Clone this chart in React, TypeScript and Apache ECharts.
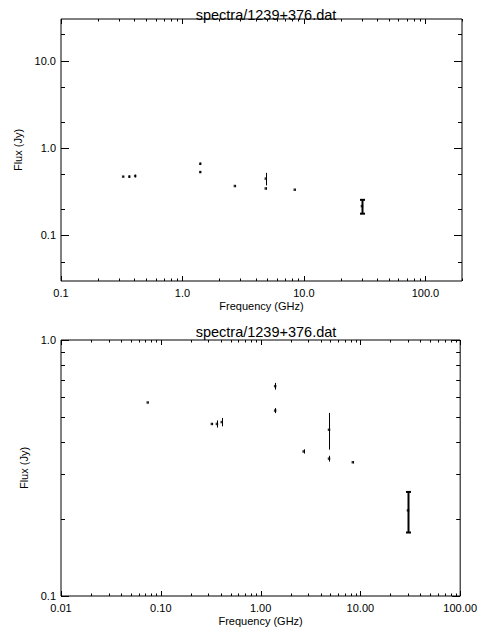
import React, { useEffect, useRef } from 'react';
import * as echarts from 'echarts';

// ---- data ----
const freqGHz = [0.074, 0.325, 0.365, 0.408, 1.4, 1.4, 2.7, 4.85, 4.85, 8.4, 30];
const fluxJy = [0.57, 0.47, 0.47, 0.478, 0.66, 0.53, 0.367, 0.446, 0.344, 0.333, 0.216];
const fluxErr = [0, 0.004, 0.015, 0.018, 0.02, 0.012, 0.007, 0.073, 0.009, 0.003, 0.039];

const titleText = 'spectra/1239+376.dat';
const xAxisName = 'Frequency (GHz)';
const yAxisName = 'Flux (Jy)';

const topXRange = [0.1, 200];
const topYRange = [0.03, 30];
const botXRange = [0.01, 100];
const botYRange = [0.1, 1];

const topXMinor = [2, 3, 4, 5, 6, 7, 8, 9];
const topYMinor = [2, 5];
const botXMinor = [2, 3, 4, 5, 6, 7, 8, 9];
const botYMinor = [2, 3, 4, 5, 6, 7, 8, 9];

const FONT = 'Liberation Sans';

function buildTicks(range: number[], minors: number[]) {
  const out: { v: number; major: boolean }[] = [];
  const d0 = Math.floor(Math.log10(range[0])) - 1;
  const d1 = Math.ceil(Math.log10(range[1])) + 1;
  const mults = [1, ...minors];
  for (let d = d0; d <= d1; d++) {
    for (const m of mults) {
      const v = Number((m * Math.pow(10, d)).toPrecision(12));
      if (v >= range[0] * (1 - 1e-9) && v <= range[1] * (1 + 1e-9)) {
        out.push({ v, major: m === 1 });
      }
    }
  }
  return out;
}

function decadeLabel(decimals: number) {
  return (v: number) => {
    const l = Math.log10(v);
    if (Math.abs(l - Math.round(l)) > 1e-6) return '';
    return Math.pow(10, Math.round(l)).toFixed(decimals);
  };
}

function tickSeriesData(xr: number[], yr: number[], xm: number[], ym: number[]) {
  const data: number[][] = [];
  for (const t of buildTicks(xr, xm)) data.push([t.v, yr[0], t.major ? 1 : 0, 1]);
  for (const t of buildTicks(yr, ym)) data.push([xr[0], t.v, t.major ? 1 : 0, 0]);
  return data;
}

function tickRender(xLen: number, yLen: number) {
  return (params: any, api: any) => {
    const cs = params.coordSys;
    const isX = api.value(3) === 1;
    const major = api.value(2) === 1;
    const p = api.coord([api.value(0), api.value(1)]);
    const style = { stroke: '#000', lineWidth: 1 };
    if (isX) {
      const len = major ? xLen : xLen / 2;
      const x = Math.round(p[0]) + 0.5;
      const yb = cs.y + cs.height;
      const yt = cs.y;
      return {
        type: 'group',
        children: [
          { type: 'line', shape: { x1: x, y1: yb, x2: x, y2: yb - len }, style },
          { type: 'line', shape: { x1: x, y1: yt, x2: x, y2: yt + len }, style },
        ],
      };
    }
    const len = major ? yLen : yLen / 2;
    const y = Math.round(p[1]) + 0.5;
    const xl = cs.x;
    const xr = cs.x + cs.width;
    return {
      type: 'group',
      children: [
        { type: 'line', shape: { x1: xl, y1: y, x2: xl + len, y2: y }, style },
        { type: 'line', shape: { x1: xr, y1: y, x2: xr - len, y2: y }, style },
      ],
    };
  };
}

function errRender(params: any, api: any) {
  const f = api.value(0);
  const s = api.value(1);
  const e = api.value(2);
  if (!(e > 0)) return null;
  const hi = api.coord([f, s + e]);
  const lo = api.coord([f, s - e]);
  const heavy = f >= 20;
  const x = Math.round(hi[0]) + 0.5;
  const lw = heavy ? 2 : 1;
  const children: any[] = [
    { type: 'line', shape: { x1: x, y1: hi[1], x2: x, y2: lo[1] }, style: { stroke: '#000', lineWidth: lw } },
  ];
  if (heavy) {
    const w = 2.5;
    children.push({ type: 'line', shape: { x1: x - w, y1: hi[1], x2: x + w, y2: hi[1] }, style: { stroke: '#000', lineWidth: 2 } });
    children.push({ type: 'line', shape: { x1: x - w, y1: lo[1], x2: x + w, y2: lo[1] }, style: { stroke: '#000', lineWidth: 2 } });
  }
  return { type: 'group', children };
}

export default function App() {
  const ref = useRef<HTMLDivElement>(null);
  useEffect(() => {
    if (!ref.current) return;
    const chart = echarts.init(ref.current, null, { renderer: 'svg' });
    const points = freqGHz.map((f, i) => [f, fluxJy[i]]);
    const errData = freqGHz.map((f, i) => [f, fluxJy[i], fluxErr[i]]);
    const labelStyle = { color: '#000', fontFamily: FONT, fontSize: 11 };
    const nameStyle = { color: '#000', fontFamily: FONT, fontSize: 11 };
    const mkX = (idx: number, r: number[], dec: number) => ({
      type: 'log', logBase: 10, gridIndex: idx, min: r[0], max: r[1],
      axisLine: { show: false }, axisTick: { show: false }, splitLine: { show: false },
      axisLabel: { ...labelStyle, margin: 6, formatter: decadeLabel(dec) },
      name: xAxisName, nameLocation: 'middle', nameGap: 19, nameTextStyle: nameStyle,
    });
    const mkY = (idx: number, r: number[], dec: number) => ({
      type: 'log', logBase: 10, gridIndex: idx, min: r[0], max: r[1],
      axisLine: { show: false }, axisTick: { show: false }, splitLine: { show: false },
      axisLabel: { ...labelStyle, margin: 5, formatter: decadeLabel(dec) },
      name: yAxisName, nameLocation: 'middle', nameGap: 30, nameRotate: 90, nameTextStyle: nameStyle,
    });
    chart.setOption({
      animation: false,
      backgroundColor: '#fff',
      title: [
        { text: titleText, left: 261, top: 2, textAlign: 'center', textStyle: { color: '#000', fontFamily: FONT, fontSize: 14.5, fontWeight: 'normal' } },
        { text: titleText, left: 261, top: 319, textAlign: 'center', textStyle: { color: '#000', fontFamily: FONT, fontSize: 14.5, fontWeight: 'normal' } },
      ],
      grid: [
        { left: 61, top: 19, width: 401, height: 262, show: true, borderColor: '#000', borderWidth: 1, backgroundColor: 'transparent' },
        { left: 61, top: 340, width: 401, height: 256, show: true, borderColor: '#000', borderWidth: 1, backgroundColor: 'transparent' },
      ],
      xAxis: [mkX(0, topXRange, 1), mkX(1, botXRange, 2)],
      yAxis: [mkY(0, topYRange, 1), mkY(1, botYRange, 1)],
      series: [
        { type: 'custom', xAxisIndex: 0, yAxisIndex: 0, data: tickSeriesData(topXRange, topYRange, topXMinor, topYMinor), renderItem: tickRender(5, 8), silent: true },
        { type: 'custom', xAxisIndex: 1, yAxisIndex: 1, data: tickSeriesData(botXRange, botYRange, botXMinor, botYMinor), renderItem: tickRender(5, 8), silent: true },
        { type: 'custom', xAxisIndex: 0, yAxisIndex: 0, data: errData, renderItem: errRender, clip: true, silent: true },
        { type: 'custom', xAxisIndex: 1, yAxisIndex: 1, data: errData, renderItem: errRender, clip: true, silent: true },
        { type: 'scatter', xAxisIndex: 0, yAxisIndex: 0, data: points, symbol: 'rect', symbolSize: 2.5, itemStyle: { color: '#000' }, clip: true, silent: true },
        { type: 'scatter', xAxisIndex: 1, yAxisIndex: 1, data: points, symbol: 'rect', symbolSize: 2.5, itemStyle: { color: '#000' }, clip: true, silent: true },
      ],
    });
    return () => chart.dispose();
  }, []);
  return <div ref={ref} style={{ position: 'fixed', left: 0, top: 0, width: 480, height: 640 }} />;
}
